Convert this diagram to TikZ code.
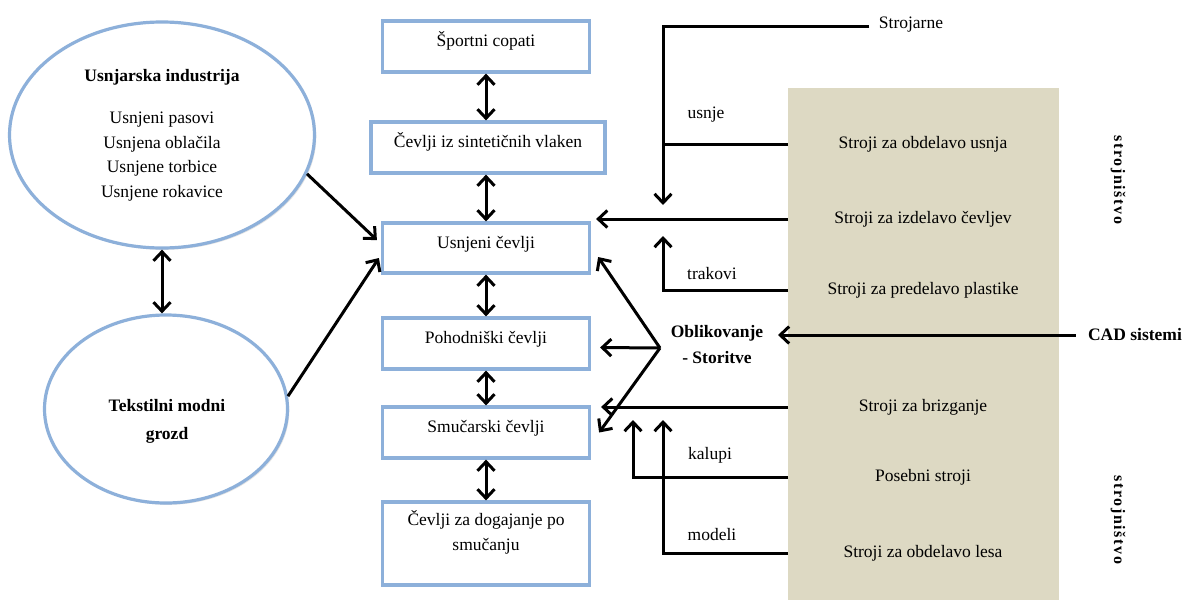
\documentclass[tikz,border=0pt]{standalone}
\usepackage{fontspec}
\setmainfont{Liberation Serif}
\usetikzlibrary{arrows.meta,shapes.geometric,shadows,calc}

\definecolor{boxblue}{RGB}{141,176,218}
\definecolor{machinebg}{RGB}{221,217,195}

\begin{document}
\begin{tikzpicture}[x=1pt,y=-1pt,
  every node/.style={font=\fontsize{17.5}{24.5}\selectfont},
  barb/.tip={Straight Barb[length=9pt,width=17pt]},
  flow/.style={draw=black,line width=3pt,-barb},
  both/.style={draw=black,line width=3pt,barb-barb},
  feed/.style={draw=black,line width=3pt},
  softshadow/.style={drop shadow={shadow xshift=1.8pt,shadow yshift=-1.8pt,opacity=0.22}},
  shoebox/.style={draw=boxblue,line width=3.2pt,fill=white,softshadow,
    minimum width=207pt,minimum height=51pt,text height=12pt,text depth=12pt},
  cluster/.style={ellipse,draw=boxblue,line width=3.2pt,fill=white,softshadow,inner sep=0pt},
  machinebox/.style={fill=machinebg,inner sep=0pt},
  machine/.style={inner sep=2pt},
  boldlabel/.style={font=\fontsize{17.5}{26}\selectfont\bfseries,align=center},
  sidelabel/.style={font=\fontsize{16}{19}\selectfont\bfseries\addfontfeature{LetterSpace=10},rotate=-90}
]
% canvas
\fill[white] (0,0) rectangle (1191,600);
\useasboundingbox (0,0) rectangle (1191,600);

% machinery panel
\node[machinebox,anchor=north west,minimum width=271pt,minimum height=512pt] (machines) at (788,88) {};

% clusters
\node[cluster,minimum width=305pt,minimum height=226pt,align=center] (usn) at (162,135)
  {\textbf{Usnjarska industrija}\\[18pt]Usnjeni pasovi\\Usnjena oblačila\\Usnjene torbice\\Usnjene rokavice};
\node[cluster,minimum width=243pt,minimum height=188pt] (tmg) at (166,409) {};
\node[boldlabel,font=\fontsize{17.5}{28}\selectfont\bfseries] (tmgtext) at (167,421) {Tekstilni modni\\grozd};

% footwear column
\node[shoebox] (sport) at (486,46.5) {Športni copati};
\node[shoebox,minimum width=234pt] (sint) at (488,147.5) {Čevlji iz sintetičnih vlaken};
\node[shoebox,minimum height=50pt] (usnjeni) at (486,248) {Usnjeni čevlji};
\node[shoebox] (pohod) at (486,343.5) {Pohodniški čevlji};
\node[shoebox] (smuc) at (486,432.5) {Smučarski čevlji};
\node[shoebox,minimum height=83pt,align=center,text height=,text depth=] (dogaj) at (486,543.5)
  {Čevlji za dogajanje po\\smučanju\\[2pt]\mbox{}};

% design services and CAD
\node[boldlabel] (oblik) at (717,345) {Oblikovanje\\- Storitve};
\node[font=\fontsize{17.5}{24.5}\selectfont\bfseries] (cad) at (1135,335) {CAD sistemi};
\node (strojarne) at (911,25) {Strojarne};

% machine groups
\node[machine] (m1) at (923,144) {Stroji za obdelavo usnja};
\node[machine] (m2) at (923,219) {Stroji za izdelavo čevljev};
\node[machine] (m3) at (923,290) {Stroji za predelavo plastike};
\node[machine] (m4) at (923,407) {Stroji za brizganje};
\node[machine] (m5) at (923,477) {Posebni stroji};
\node[machine] (m6) at (923,553) {Stroji za obdelavo lesa};

\node[sidelabel] (sn1) at (1118,180) {strojništvo};
\node[sidelabel] (sn2) at (1118,520) {strojništvo};

% material labels
\node (usnje) at (706,115) {usnje};
\node (trakovi) at (712,274) {trakovi};
\node (kalupi) at (710,455) {kalupi};
\node (modeli) at (712,535) {modeli};

% arrow ends
\coordinate (fork) at (660,348);
\coordinate (usnjetip) at (663,205);
\coordinate (trakovitip) at (663,236);
\coordinate (kalupitip) at (633,420);
\coordinate (modelitip) at (663,420);
\coordinate (cadtip) at (778,335);

% links between clusters and footwear
\draw[both] (usn.south) -- (usn.south |- tmg.north);
\draw[flow] (usn.-15) -- ($(usnjeni.west)+(-4,-8)$);
\draw[flow] (tmg.6) -- ($(usnjeni.west)+(-2,10)$);

% links in the footwear column
\draw[both] (sport.south) -- (sport.south |- sint.north);
\draw[both] (sport.south |- sint.south) -- (sport.south |- usnjeni.north);
\draw[both] (usnjeni.south) -- (usnjeni.south |- pohod.north);
\draw[both] (pohod.south) -- (pohod.south |- smuc.north);
\draw[both] (smuc.south) -- (smuc.south |- dogaj.north);

% design services
\draw[flow] (fork) -- ($(usnjeni.east)+(7,9)$);
\draw[flow] (fork) -- ($(pohod.east)+(9,4)$);
\draw[flow] (fork) -- ($(smuc.east)+(8,0)$);
\draw[flow] ($(cad.west)+(-9,0)$) -- (cadtip);

% supplies from machinery
\draw[flow] ($(strojarne.west)+(-6,1)$) -| (usnjetip);
\draw[feed] (machines.west |- m1) -- (usnjetip |- m1);
\draw[flow] (machines.west |- m2) -- ($(usnjeni.east |- m2)+(5,0)$);
\draw[flow] (machines.west |- m3) -| (trakovitip);
\draw[flow] (machines.west |- m4) -- ($(smuc.east |- m4)+(10,0)$);
\draw[flow] (machines.west |- m5) -| (kalupitip);
\draw[flow] (machines.west |- m6) -| (modelitip);
\end{tikzpicture}
\end{document}
